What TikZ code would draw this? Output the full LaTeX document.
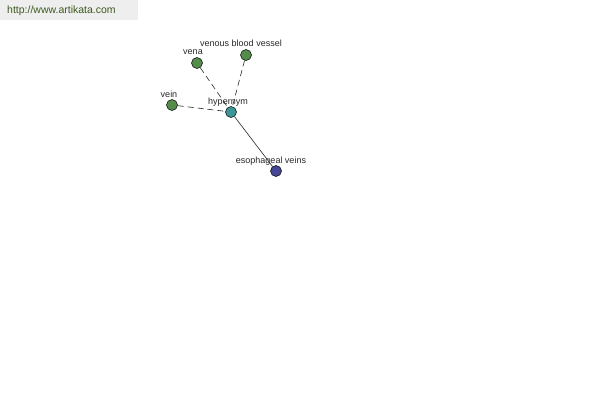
\documentclass[tikz,border=0pt]{standalone}
\usepackage{fontspec}
\setmainfont{Liberation Sans}
\definecolor{gnode}{RGB}{84,140,74}
\definecolor{tnode}{RGB}{60,150,150}
\definecolor{bnode}{RGB}{70,70,150}
\definecolor{wmbg}{RGB}{238,238,238}
\definecolor{wmtxt}{RGB}{60,90,30}
\definecolor{lbl}{RGB}{40,40,40}
\begin{document}
\begin{tikzpicture}[x=1pt,y=-1pt,
  dot/.style={circle,draw=black,line width=0.5pt,minimum size=11pt,inner sep=0pt},
  lab/.style={font=\fontsize{9}{10}\selectfont,text=lbl,inner sep=0pt},
  rel/.style={line width=0.6pt,draw=black!85},
  reldash/.style={rel,dash pattern=on 6pt off 4pt}]
\useasboundingbox[fill=white] (0,0) rectangle (600,400);
\fill[wmbg] (0,0) rectangle (138,20);
\node[font=\fontsize{10.5}{12}\selectfont,text=wmtxt,anchor=west,inner sep=0pt] (wm) at (7,11) {http://www.artikata.com};
\node[dot,fill=tnode] (hyp) at (231,112) {};
\node[dot,fill=gnode] (vena) at (197,63) {};
\node[dot,fill=gnode] (vbv) at (246,55) {};
\node[dot,fill=gnode] (vein) at (172,105) {};
\node[dot,fill=bnode] (eso) at (276,171) {};
\draw[reldash] (vena) -- (hyp);
\draw[reldash] (vbv) -- (hyp);
\draw[reldash] (vein) -- (hyp);
\draw[rel] (hyp) -- (eso);
\node[lab] (lhyp) at (228,102) {hypernym};
\node[lab] (lvena) at (193,52) {vena};
\node[lab] (lvbv) at (241,43.5) {venous blood vessel};
\node[lab] (lvein) at (169,94.5) {vein};
\node[lab] (leso) at (271,161) {esophageal veins};
\end{tikzpicture}
\end{document}
